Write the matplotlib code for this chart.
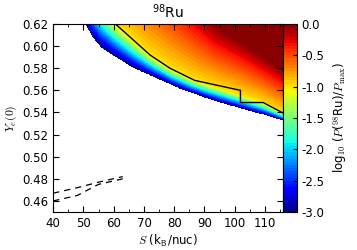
"""98Ru production probability map over entropy and initial Ye."""
import matplotlib
matplotlib.use("Agg")
import matplotlib.pyplot as plt
import numpy as np

plt.rcParams["mathtext.fontset"] = "cm"
plt.rcParams["font.family"] = ["DejaVu Sans"]

# colour field: Ye where log10(P/Pmax) reaches -3 (lower edge), -1 and 0
lo_S = [40, 50.8, 53, 56, 61, 66.4, 72, 81.9, 92, 102, 110, 116]
lo_ye = [0.70, 0.62, 0.609, 0.599, 0.590, 0.581, 0.574, 0.562, 0.552, 0.544, 0.538, 0.533]
mid_S = [40, 50.8, 55, 60.6, 66.5, 72, 78.6, 86.8, 95, 102, 109.4, 116]
mid_ye = [0.72, 0.655, 0.638, 0.62, 0.6055, 0.592, 0.580, 0.569, 0.562, 0.556, 0.549, 0.540]
hi_S = [40, 50.8, 55, 60.6, 66, 72, 78.6, 86.8, 93.5, 101.9, 109.4, 116]
hi_ye = [0.82, 0.77, 0.75, 0.72, 0.70, 0.685, 0.665, 0.64, 0.62, 0.606, 0.592, 0.580]
level_vals = [-3.0, -1.0, 0.0]

# black contour (log P = -1) as drawn
contour_S = [60.6, 66.5, 72, 78.6, 86.8, 101.9, 101.9, 109.4, 116]
contour_ye = [0.62, 0.6055, 0.592, 0.580, 0.569, 0.560, 0.549, 0.549, 0.5395]

# dashed lines lower left
dash1_S = [40, 48, 55, 63]
dash1_ye = [0.467, 0.472, 0.477, 0.482]
dash2_S = [40, 48, 55, 63]
dash2_ye = [0.460, 0.465, 0.475, 0.480]

S = np.linspace(40, 116, 400)
Ye = np.linspace(0.45, 0.62, 400)
lo = np.interp(S, lo_S, lo_ye)
mid = np.interp(S, mid_S, mid_ye)
hi = np.interp(S, hi_S, hi_ye)
Z = np.full((len(Ye), len(S)), np.nan)
for j in range(len(S)):
    col = np.interp(Ye, [lo[j], mid[j], hi[j]], level_vals)
    col[Ye < lo[j]] = np.nan
    Z[:, j] = col

fig = plt.figure(figsize=(3.57, 2.5), dpi=100)
ax = fig.add_axes([0.149, 0.152, 0.644, 0.752])
cax = fig.add_axes([0.793, 0.152, 0.038, 0.752])

cf = ax.contourf(S, Ye, Z, levels=np.linspace(-3, 0, 61), cmap="jet", vmin=-3, vmax=0)
ax.plot(contour_S, contour_ye, color="black", lw=1.0)
ax.plot(dash1_S, dash1_ye, color="black", lw=0.9, ls=(0, (5, 4)))
ax.plot(dash2_S, dash2_ye, color="black", lw=0.9, ls=(0, (5, 4)))

ax.set_xlim(40, 116)
ax.set_ylim(0.45, 0.62)
ax.set_xticks(np.arange(40, 111, 10))
ax.set_xticks(np.arange(45, 116, 5), minor=True)
ax.set_yticks(np.arange(0.46, 0.621, 0.02))
ax.yaxis.set_major_formatter(matplotlib.ticker.FormatStrFormatter("%.2f"))
ax.tick_params(which="both", direction="in", top=True, right=True, labelsize=8.5)
ax.tick_params(which="major", length=4)
ax.tick_params(which="minor", length=2)
ax.set_xlabel(r"$S$ (k$_{\mathsf{B}}$/nuc)", fontsize=8.5, labelpad=2)
ax.set_ylabel(r"$Y_e(0)$", fontsize=8.5, labelpad=2)
ax.set_title(r"$^{98}$Ru", fontsize=10, pad=4, math_fontfamily="dejavusans")

cb = fig.colorbar(cf, cax=cax, ticks=np.arange(-3.0, 0.01, 0.5))
cb.ax.tick_params(direction="in", labelsize=8.5, length=3)
cb.ax.yaxis.set_major_formatter(matplotlib.ticker.FormatStrFormatter("%.1f"))
cb.set_label(r"log$_{\mathsf{10}}$ ($P$($^{\mathsf{98}}$Ru)/$P_{\rm max}$)",
             fontsize=8.5, labelpad=5)

fig.savefig("out.png", dpi=100)
